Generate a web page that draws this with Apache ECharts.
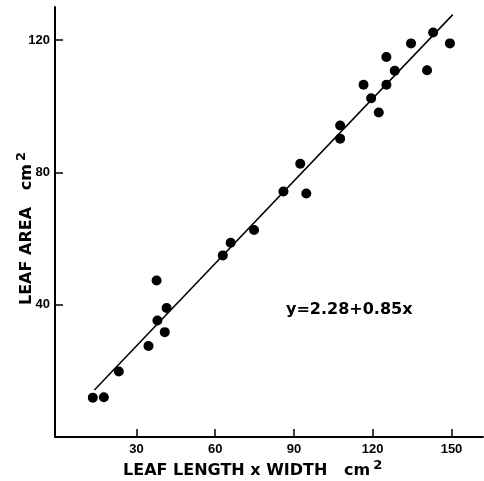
<!DOCTYPE html>
<html><head><meta charset="utf-8">
<script src="https://cdn.jsdelivr.net/npm/echarts@6/dist/echarts.min.js"></script>
<style>html,body{margin:0;padding:0;background:#fff}#c{width:484px;height:481px}</style>
</head><body><div id="c"></div>
<script>
// Leaf length x width (cm^2)
const leafLW = [13.4, 17.6, 23.3, 34.6, 38.0, 37.7, 41.5, 40.8, 62.9, 65.9, 74.8, 86.0, 92.4, 94.7, 107.6, 107.6, 116.5, 119.4, 122.3, 125.2, 125.2, 128.4, 134.6, 140.7, 143.0, 149.4];
// Leaf area (cm^2)
const leafArea = [11.9, 12.0, 19.8, 27.5, 35.2, 47.3, 39.0, 31.7, 54.9, 58.7, 62.6, 74.2, 82.6, 73.6, 90.2, 94.2, 106.5, 102.4, 98.1, 106.5, 114.9, 110.7, 119.0, 110.9, 122.3, 119.0];
// Fitted line end points as drawn
const fitX = [14.0, 150.5];
const fitY = [14.2, 127.7];
const xTicks = [30, 60, 90, 120, 150];
const equation = 'y=2.28+0.85x';

const chart = echarts.init(document.getElementById('c'));
const lblFont = {color: '#000', fontFamily: 'Liberation Sans', fontWeight: 'bold', fontSize: 13};
chart.setOption({
  animation: false,
  backgroundColor: '#fff',
  grid: {left: 55, right: 1, top: 7, bottom: 44},
  xAxis: {
    type: 'value', min: -1, max: 162,
    splitLine: {show: false},
    axisLine: {show: true, onZero: false, lineStyle: {color: '#000', width: 2}},
    axisTick: {show: true, inside: false, length: -8, lineStyle: {color: '#000', width: 1.5}, customValues: xTicks},
    axisLabel: Object.assign({margin: 6, customValues: xTicks}, lblFont)
  },
  yAxis: {
    type: 'value', min: 0, max: 130, interval: 40,
    splitLine: {show: false},
    axisLine: {show: true, onZero: false, lineStyle: {color: '#000', width: 2}},
    axisTick: {show: true, inside: false, length: -8, lineStyle: {color: '#000', width: 1.5}},
    axisLabel: Object.assign({margin: 5, showMinLabel: false, showMaxLabel: false}, lblFont)
  },
  series: [
    {type: 'scatter', data: leafLW.map((x, i) => [x, leafArea[i]]), symbolSize: 10,
     itemStyle: {color: '#000', opacity: 1}},
    {type: 'line', data: fitX.map((x, i) => [x, fitY[i]]), symbol: 'none',
     lineStyle: {color: '#000', width: 1.5}}
  ],
  graphic: [
    {type: 'text', left: 286, top: 302, style: {text: equation, fill: '#000',
      font: 'bold 16px "DejaVu Sans"'}},
    {type: 'text', x: 123, y: 483, style: {
      text: 'LEAF LENGTH x WIDTH   cm{s|2}', fill: '#000', verticalAlign: 'bottom', align: 'left',
      rich: {s: {fontSize: 13, fontWeight: 'bold', fontFamily: 'DejaVu Sans', verticalAlign: 'top', padding: [0,0,0,3]}},
      fontSize: 16, fontWeight: 'bold', fontFamily: 'DejaVu Sans', lineHeight: 24}},
    {type: 'text', x: 39, y: 305, rotation: Math.PI / 2, style: {
      text: 'LEAF AREA   cm{s|2}', fill: '#000', verticalAlign: 'bottom', align: 'left',
      rich: {s: {fontSize: 13, fontWeight: 'bold', fontFamily: 'DejaVu Sans', verticalAlign: 'top', padding: [0,0,0,3]}},
      fontSize: 16, fontWeight: 'bold', fontFamily: 'DejaVu Sans', lineHeight: 24}}
  ]
});
</script></body></html>
